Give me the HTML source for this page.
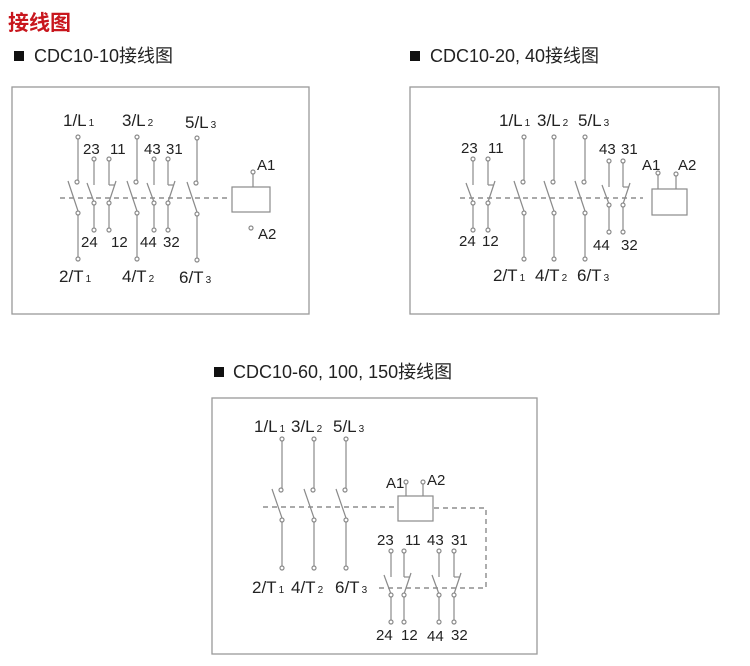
<!DOCTYPE html>
<html><head><meta charset="utf-8"><style>
html,body{margin:0;padding:0;background:#fff;}
svg{display:block;}
text{font-family:"Liberation Sans","Noto Sans CJK SC",sans-serif;fill:#222;}
.t{font-size:17px;}
.n{font-size:15px;}
.s{font-size:10px;}
.h{font-size:18px;}
</style></head><body>
<svg width="750" height="666" viewBox="0 0 750 666" xmlns="http://www.w3.org/2000/svg">
<defs>
<g id="P" fill="#fff" stroke="#8a8a8a" stroke-width="1.2">
<circle cx="0" cy="137" r="2"/><line x1="0" y1="139" x2="0" y2="180"/><circle cx="-1" cy="182" r="2"/>
<line x1="-10" y1="181" x2="0" y2="211"/><circle cx="0" cy="213" r="2"/><line x1="0" y1="215" x2="0" y2="257"/><circle cx="0" cy="259" r="2"/></g>
<g id="Q" fill="#fff" stroke="#8a8a8a" stroke-width="1.2">
<circle cx="0" cy="439" r="2"/><line x1="0" y1="441" x2="0" y2="488"/><circle cx="-1" cy="490" r="2"/>
<line x1="-10" y1="489" x2="0" y2="518"/><circle cx="0" cy="520" r="2"/><line x1="0" y1="522" x2="0" y2="566"/><circle cx="0" cy="568" r="2"/></g>
<g id="NO" fill="#fff" stroke="#8a8a8a" stroke-width="1.2">
<circle cx="0" cy="0" r="2"/><line x1="0" y1="2" x2="0" y2="26"/>
<line x1="-7" y1="24" x2="0" y2="43"/><circle cx="0" cy="44" r="2"/><line x1="0" y1="46" x2="0" y2="69"/><circle cx="0" cy="71" r="2"/></g>
<g id="NC" fill="#fff" stroke="#8a8a8a" stroke-width="1.2">
<circle cx="0" cy="0" r="2"/><line x1="0" y1="2" x2="0" y2="26"/><line x1="0" y1="26" x2="6" y2="26"/>
<line x1="7" y1="22" x2="0" y2="43"/><circle cx="0" cy="44" r="2"/><line x1="0" y1="46" x2="0" y2="69"/><circle cx="0" cy="71" r="2"/></g>
</defs>

<text x="8" y="30" style="font-size:21px;fill:#c8161d;font-weight:bold">接线图</text>
<rect x="14" y="51" width="10" height="10" fill="#111"/>
<text x="34" y="62" class="h">CDC10-10接线图</text>
<rect x="410" y="51" width="10" height="10" fill="#111"/>
<text x="430" y="62" class="h">CDC10-20, 40接线图</text>
<rect x="214" y="367" width="10" height="10" fill="#111"/>
<text x="233" y="378" class="h">CDC10-60, 100, 150接线图</text>

<g fill="none" stroke="#999" stroke-width="1.3">
<rect x="12" y="87" width="297" height="227"/>
<rect x="410" y="87" width="309" height="227"/>
<rect x="212" y="398" width="325" height="256"/>
</g>

<!-- Panel 1 -->
<line x1="60" y1="198" x2="231" y2="198" stroke="#777" stroke-width="1.2" stroke-dasharray="5,4"/>
<use href="#P" x="78"/><use href="#P" x="137"/><use href="#P" x="197" y="1"/>
<use href="#NO" x="94" y="159"/><use href="#NC" x="109" y="159"/>
<use href="#NO" x="154" y="159"/><use href="#NC" x="168" y="159"/>
<g fill="#fff" stroke="#8a8a8a" stroke-width="1.2">
<rect x="232" y="187" width="38" height="25"/>
<line x1="253" y1="174" x2="253" y2="187"/><circle cx="253" cy="172" r="2"/>
<circle cx="251" cy="228" r="2"/></g>
<text x="63" y="126" class="t">1/L<tspan class="s" dx="2">1</tspan></text>
<text x="122" y="126" class="t">3/L<tspan class="s" dx="2">2</tspan></text>
<text x="185" y="128" class="t">5/L<tspan class="s" dx="2">3</tspan></text>
<text x="83" y="154" class="n">23</text><text x="110" y="154" class="n">11</text>
<text x="144" y="154" class="n">43</text><text x="166" y="154" class="n">31</text>
<text x="81" y="247" class="n">24</text><text x="111" y="247" class="n">12</text>
<text x="140" y="247" class="n">44</text><text x="163" y="247" class="n">32</text>
<text x="257" y="170" class="n">A1</text><text x="258" y="239" class="n">A2</text>
<text x="59" y="282" class="t">2/T<tspan class="s" dx="2">1</tspan></text>
<text x="122" y="282" class="t">4/T<tspan class="s" dx="2">2</tspan></text>
<text x="179" y="283" class="t">6/T<tspan class="s" dx="2">3</tspan></text>

<!-- Panel 2 -->
<line x1="460" y1="198" x2="643" y2="198" stroke="#777" stroke-width="1.2" stroke-dasharray="5,4"/>
<use href="#P" x="524"/><use href="#P" x="554"/><use href="#P" x="585"/>
<use href="#NO" x="473" y="159"/><use href="#NC" x="488" y="159"/>
<use href="#NO" x="609" y="161"/><use href="#NC" x="623" y="161"/>
<g fill="#fff" stroke="#8a8a8a" stroke-width="1.2">
<rect x="652" y="189" width="35" height="26"/>
<line x1="658" y1="175" x2="658" y2="189"/><circle cx="658" cy="173" r="2"/>
<line x1="676" y1="176" x2="676" y2="189"/><circle cx="676" cy="174" r="2"/></g>
<text x="499" y="126" class="t">1/L<tspan class="s" dx="2">1</tspan></text>
<text x="537" y="126" class="t">3/L<tspan class="s" dx="2">2</tspan></text>
<text x="578" y="126" class="t">5/L<tspan class="s" dx="2">3</tspan></text>
<text x="461" y="153" class="n">23</text><text x="488" y="153" class="n">11</text>
<text x="599" y="154" class="n">43</text><text x="621" y="154" class="n">31</text>
<text x="459" y="246" class="n">24</text><text x="482" y="246" class="n">12</text>
<text x="593" y="250" class="n">44</text><text x="621" y="250" class="n">32</text>
<text x="642" y="170" class="n">A1</text><text x="678" y="170" class="n">A2</text>
<text x="493" y="281" class="t">2/T<tspan class="s" dx="2">1</tspan></text>
<text x="535" y="281" class="t">4/T<tspan class="s" dx="2">2</tspan></text>
<text x="577" y="281" class="t">6/T<tspan class="s" dx="2">3</tspan></text>

<!-- Panel 3 -->
<g fill="none" stroke="#777" stroke-width="1.2" stroke-dasharray="5,4">
<line x1="263" y1="507" x2="397" y2="507"/>
<polyline points="434,508 486,508 486,588 377,588"/>
</g>
<use href="#Q" x="282"/><use href="#Q" x="314"/><use href="#Q" x="346"/>
<use href="#NO" x="391" y="551"/><use href="#NC" x="404" y="551"/>
<use href="#NO" x="439" y="551"/><use href="#NC" x="454" y="551"/>
<g fill="#fff" stroke="#8a8a8a" stroke-width="1.2">
<rect x="398" y="496" width="35" height="25"/>
<line x1="406" y1="484" x2="406" y2="496"/><circle cx="406" cy="482" r="2"/>
<line x1="423" y1="484" x2="423" y2="496"/><circle cx="423" cy="482" r="2"/></g>
<text x="254" y="432" class="t">1/L<tspan class="s" dx="2">1</tspan></text>
<text x="291" y="432" class="t">3/L<tspan class="s" dx="2">2</tspan></text>
<text x="333" y="432" class="t">5/L<tspan class="s" dx="2">3</tspan></text>
<text x="386" y="488" class="n">A1</text><text x="427" y="485" class="n">A2</text>
<text x="377" y="545" class="n">23</text><text x="405" y="545" class="n">11</text>
<text x="427" y="545" class="n">43</text><text x="451" y="545" class="n">31</text>
<text x="376" y="640" class="n">24</text><text x="401" y="640" class="n">12</text>
<text x="427" y="641" class="n">44</text><text x="451" y="640" class="n">32</text>
<text x="252" y="593" class="t">2/T<tspan class="s" dx="2">1</tspan></text>
<text x="291" y="593" class="t">4/T<tspan class="s" dx="2">2</tspan></text>
<text x="335" y="593" class="t">6/T<tspan class="s" dx="2">3</tspan></text>
</svg>
</body></html>
